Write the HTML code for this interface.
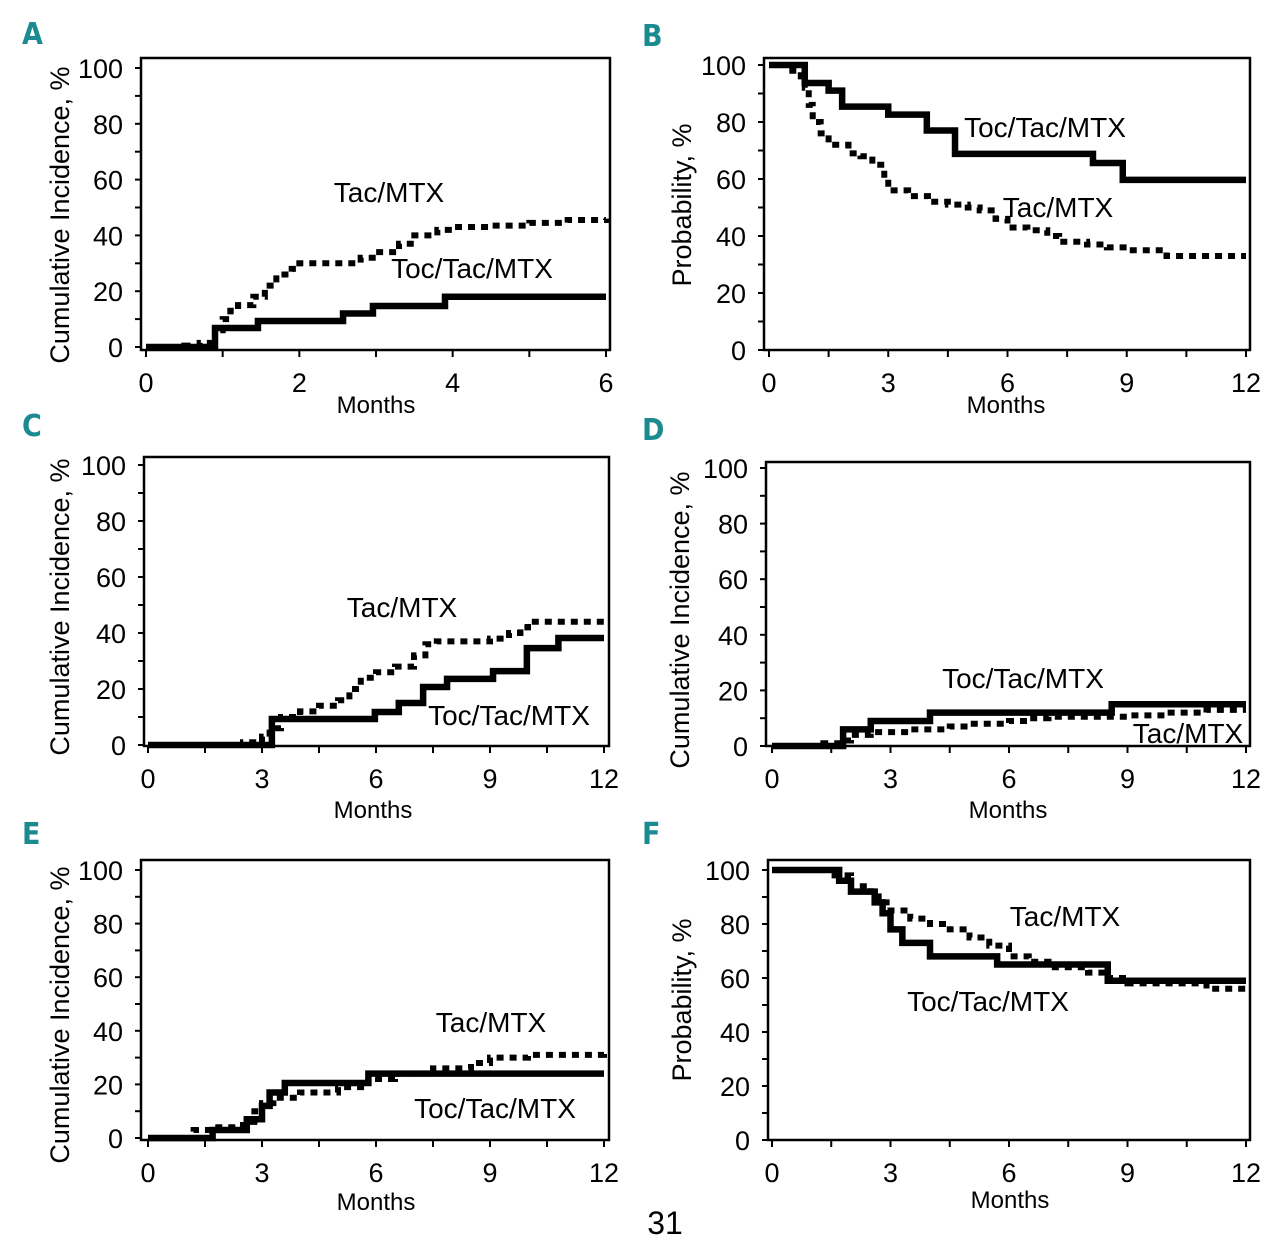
<!DOCTYPE html>
<html><head><meta charset="utf-8"><style>
body{margin:0;background:#fff;}
svg{display:block;font-family:"Liberation Sans",sans-serif;}
</style></head><body>
<svg id="fig" width="1280" height="1252" viewBox="0 0 1280 1252" xmlns="http://www.w3.org/2000/svg"></svg>
<script>
// Panel A (months 0-6)
const aSolidX=[0,0.9,1.46,2.57,2.96,3.9,6];
const aSolidY=[0,6.8,9.3,12,14.7,18,18];
const aDashX=[0,0.5,0.7,0.85,0.9,1.0,1.1,1.2,1.4,1.55,1.7,1.9,2.0,2.6,2.8,3.0,3.3,3.5,3.8,4.0,4.5,5.0,5.5,6];
const aDashY=[0,0.5,1.5,3,6,10,13,15,18,22,26,28,30,30,32,34,37,40,42,43,43.5,44.5,45.5,46];
// Panel B
const bSolidX=[0,0.9,1.5,1.84,3.0,3.97,4.68,8.15,8.9,12];
const bSolidY=[100,93.7,91,85.4,82.6,77,68.8,65.6,59.7,59.7];
const bDashX=[0,0.5,0.8,0.9,1.0,1.1,1.3,1.5,2,2.3,2.6,2.9,3.0,3.5,4,4.5,5,5.3,5.7,6,6.5,7,7.3,8,8.5,9,9.5,10,11,12];
const bDashY=[100,98,96,92,86,80,76,72,69,68,65,60,56,54,52,51,50,49,46,43,42,40,38,37,36,35,35,33,33,33];
// Panel C
const cSolidX=[0,3.26,5.97,6.6,7.24,7.87,9.08,9.97,10.8,12];
const cSolidY=[0,9.3,11.8,15,20.7,23.6,26.4,34.6,38.2,38.2];
const cDashX=[0,2.5,3.0,3.2,3.5,4,4.5,5.0,5.3,5.6,6,6.5,7,7.3,7.6,8.5,9,9.5,9.8,10,11,12];
const cDashY=[0,1,3,6,10,12,14,16,20,24,26,28,32,36,37,37,38,40,42,44,44,45];
// Panel D
const dSolidX=[0,1.8,2.5,4.0,8.6,12];
const dSolidY=[0,6,9,12,15,15];
const dDashX=[0,1.3,1.8,2,2.5,3.5,4.5,5,6,6.5,7,9,10,11,12];
const dDashY=[0,1,2,4,5,6,7,8,9,10,10.5,11,12,13,13];
// Panel E
const eSolidX=[0,1.7,2.6,3.0,3.2,3.6,5.8,12];
const eSolidY=[0,3,7,12,17,20.5,24,24];
const eDashX=[0,1.2,1.7,2.5,2.8,3.0,3.3,4,5,5.8,6.5,7.5,8.5,9,10,12];
const eDashY=[0,3,4,6,10,13,15,17,19,22,24,26,28,30,31,32];
// Panel F
const fSolidX=[0,1.7,2.0,2.6,2.8,3.0,3.3,4,5.7,8.5,12];
const fSolidY=[100,96,92,88,84,78,73,68,65,59,59];
const fDashX=[0,1.5,2,2.5,2.7,3,3.5,4,4.5,5,5.5,6,6.5,7,8,8.5,9,10,11,12];
const fDashY=[100,98,94,92,88,85,82,80,78,75,72,68,66,64,62,60,58,58,56,55];

const xTickLabelsA=["0","2","4","6"];
const xTickLabels12=["0","3","6","9","12"];
const yTickLabels=["0","20","40","60","80","100"];

const NS="http://www.w3.org/2000/svg";
const svg=document.getElementById('fig');
function mk(tag,attrs,parent){const e=document.createElementNS(NS,tag);for(const k in attrs)e.setAttribute(k,attrs[k]);(parent||svg).appendChild(e);return e;}

function stepPath(xs,ys,sx,sy){let d="M"+sx(xs[0])+","+sy(ys[0]);for(let i=1;i<xs.length;i++){d+=" H"+sx(xs[i])+" V"+sy(ys[i]);}return d;}

function panel(p){
  const g=mk('g',{});
  
  
  const sx=v=>p.x0+(p.x1-p.x0)*v/p.xmax;
  const sy=v=>p.y0-(p.y0-p.y100)*v/100;
  const box=mk('rect',{x:p.bx,y:p.by,width:p.bw,height:p.bh,fill:'none',stroke:'#000','stroke-width':2.5},g);
  
  
  for(let v=0;v<=100;v+=10){const y=sy(v);mk('line',{x1:p.bx-6,x2:p.bx,y1:y,y2:y,stroke:'#000','stroke-width':2},g);}
  yTickLabels.forEach((t,i)=>{const tx=mk('text',{x:p.bx-18,y:sy(i*20)+10,'text-anchor':'end','font-size':27},g);tx.textContent=t;
    
    });
  for(let v=0;v<=p.xmax+1e-9;v+=p.xstep){const x=sx(v);mk('line',{x1:x,x2:x,y1:p.by+p.bh,y2:p.by+p.bh+7,stroke:'#000','stroke-width':2},g);}
  p.xlabels.forEach((t,i)=>{const tx=mk('text',{x:sx(i*p.xmax/(p.xlabels.length-1)),y:p.by+p.bh+42,'text-anchor':'middle','font-size':27},g);tx.textContent=t;
    
    });
  const mt=mk('text',{x:p.mx,y:p.my,'text-anchor':'middle','font-size':24},g);mt.textContent='Months';
  
  
  const yt=mk('text',{x:0,y:0,'text-anchor':'middle','font-size':27,transform:`translate(${p.ytx},${p.yty}) rotate(-90)`},g);yt.textContent=p.ytitle;
  
  
  const dl=mk('path',{d:stepPath(p.dx,p.dy,sx,sy),fill:'none',stroke:'#000','stroke-width':6,'stroke-dasharray':'7 6'},g);
  
  
  const sl=mk('path',{d:stepPath(p.sx,p.sy,sx,sy),fill:'none',stroke:'#000','stroke-width':6.5},g);
  
  
  p.labels.forEach(l=>{const t=mk('text',{x:l[1],y:l[2]+10,'text-anchor':'middle','font-size':28},g);t.textContent=l[0];
    
    });
  const L=mk('text',{x:p.lx,y:p.ly,'font-size':30,'font-weight':'bold',fill:'#1b8b8f','font-family':'"DejaVu Sans Condensed","Liberation Sans Narrow",sans-serif'},g);L.textContent=p.id;
  
  
}
panel({id:'A',bx:141,by:58,bw:469,bh:292,x0:146,x1:606,xmax:6,xstep:1,y0:347,y100:68,xlabels:xTickLabelsA,mx:376,my:413,ytx:69,yty:215,ytitle:'Cumulative Incidence, %',sx:aSolidX,sy:aSolidY,dx:aDashX,dy:aDashY,labels:[['Tac/MTX',389,192],['Toc/Tac/MTX',472,268]],lx:22,ly:44});
panel({id:'B',bx:764,by:58,bw:486,bh:292,x0:769,x1:1246,xmax:12,xstep:1.5,y0:350,y100:65,xlabels:xTickLabels12,mx:1006,my:413,ytx:691,yty:205,ytitle:'Probability, %',sx:bSolidX,sy:bSolidY,dx:bDashX,dy:bDashY,labels:[['Toc/Tac/MTX',1045,127],['Tac/MTX',1058,207]],lx:642,ly:46});
panel({id:'C',bx:144,by:457,bw:465,bh:289,x0:148,x1:604,xmax:12,xstep:1.5,y0:745,y100:465,xlabels:xTickLabels12,mx:373,my:818,ytx:69,yty:607,ytitle:'Cumulative Incidence, %',sx:cSolidX,sy:cSolidY,dx:cDashX,dy:cDashY,labels:[['Tac/MTX',402,607],['Toc/Tac/MTX',509,715]],lx:22,ly:436});
panel({id:'D',bx:766,by:462,bw:484,bh:284,x0:772,x1:1246,xmax:12,xstep:1.5,y0:746,y100:468,xlabels:xTickLabels12,mx:1008,my:818,ytx:689,yty:620,ytitle:'Cumulative Incidence, %',sx:dSolidX,sy:dSolidY,dx:dDashX,dy:dDashY,labels:[['Toc/Tac/MTX',1023,678],['Tac/MTX',1188,733]],lx:642,ly:440});
panel({id:'E',bx:141,by:860,bw:468,bh:280,x0:148,x1:604,xmax:12,xstep:1.5,y0:1138,y100:870,xlabels:xTickLabels12,mx:376,my:1210,ytx:69,yty:1015,ytitle:'Cumulative Incidence, %',sx:eSolidX,sy:eSolidY,dx:eDashX,dy:eDashY,labels:[['Tac/MTX',491,1022],['Toc/Tac/MTX',495,1108]],lx:22,ly:844});
panel({id:'F',bx:768,by:860,bw:482,bh:280,x0:772,x1:1246,xmax:12,xstep:1.5,y0:1140,y100:870,xlabels:xTickLabels12,mx:1010,my:1208,ytx:691,yty:1000,ytitle:'Probability, %',sx:fSolidX,sy:fSolidY,dx:fDashX,dy:fDashY,labels:[['Tac/MTX',1065,916],['Toc/Tac/MTX',988,1001]],lx:642,ly:844});
const pn=mk('text',{x:665,y:1234,'text-anchor':'middle','font-size':32});pn.textContent='31';


</script>
</body></html>
